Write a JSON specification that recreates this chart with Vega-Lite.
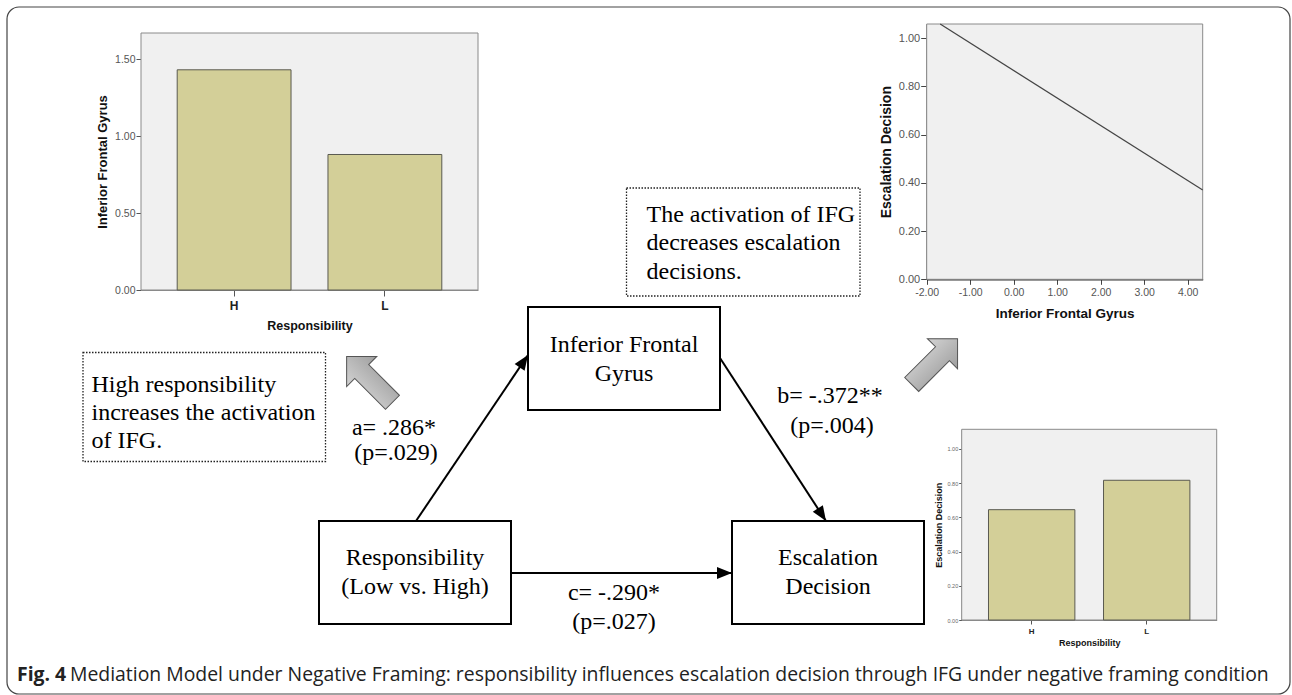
{
  "$schema": "https://vega.github.io/schema/vega-lite/v6.json",
  "width": 1292,
  "height": 695,
  "autosize": {"type": "none"},
  "padding": 0,
  "background": "white",
  "config": {
    "view": {"stroke": null},
    "axis": {"grid": false, "labelFont": "Liberation Sans", "titleFont": "Liberation Sans", "zindex": 1, "labelFlush": false, "labelOverlap": false}
  },
  "datasets": {
    "ifgByResp": [{"resp": "H", "ifg": 1.43}, {"resp": "L", "ifg": 0.88}],
    "escByIfg": [{"ifg": -1.69, "esc": 1.059}, {"ifg": 4.345, "esc": 0.37}],
    "escByResp": [{"resp": "H", "esc": 0.645}, {"resp": "L", "esc": 0.817}],
    "boxes": [
      {"x": 319, "x2": 511, "y": 521, "y2": 624},
      {"x": 528, "x2": 720, "y": 307, "y2": 410},
      {"x": 732, "x2": 924, "y": 521, "y2": 624}
    ],
    "notes": [
      {"x": 83, "x2": 325.5, "y": 352.5, "y2": 461.5},
      {"x": 626.5, "x2": 860, "y": 188, "y2": 296}
    ],
    "paths": [
      {"id": "a", "x": 416, "y": 521, "x2": 528, "y2": 355},
      {"id": "b", "x": 720, "y": 358, "x2": 826, "y2": 521},
      {"id": "c", "x": 511, "y": 573, "x2": 732, "y2": 573}
    ],
    "leftText": [
      {"t": "High responsibility", "x": 91.5, "y": 391.5},
      {"t": "increases the activation", "x": 91.5, "y": 419.5},
      {"t": "of IFG.", "x": 91.5, "y": 448},
      {"t": "The activation of IFG", "x": 646.5, "y": 221.5},
      {"t": "decreases escalation", "x": 646.5, "y": 250},
      {"t": "decisions.", "x": 646.5, "y": 278.5}
    ],
    "centerText": [
      {"t": "Inferior Frontal", "x": 624, "y": 351.5},
      {"t": "Gyrus", "x": 624, "y": 381},
      {"t": "Responsibility", "x": 415, "y": 565},
      {"t": "(Low vs. High)", "x": 415, "y": 594},
      {"t": "Escalation", "x": 828, "y": 565},
      {"t": "Decision", "x": 828, "y": 594},
      {"t": "a= .286*", "x": 394, "y": 435},
      {"t": "(p=.029)", "x": 396, "y": 460},
      {"t": "b= -.372**", "x": 830, "y": 403},
      {"t": "(p=.004)", "x": 832, "y": 433},
      {"t": "c= -.290*", "x": 614, "y": 600},
      {"t": "(p=.027)", "x": 614, "y": 629}
    ],
    "pointers": [
      {"dir": "nw", "x": 374, "y": 384},
      {"dir": "ne", "x": 930, "y": 366}
    ],
    "frame": [{"x": 7, "x2": 1290, "y": 7, "y2": 694}],
    "captionBold": [{"t": "Fig. 4", "x": 17, "y": 681}],
    "caption": [{"t": "Mediation Model under Negative Framing: responsibility influences escalation decision through IFG under negative framing condition", "x": 70, "y": 681}]
  },
  "layer": [
    {
      "encoding": {
        "x": {"field": "x", "type": "quantitative", "scale": {"domain": [0, 1292], "range": [0, 1292], "nice": false, "zero": false}, "axis": null},
        "y": {"field": "y", "type": "quantitative", "scale": {"domain": [0, 695], "range": [0, 695], "nice": false, "zero": false}, "axis": null}
      },
      "layer": [
        {"data": {"name": "frame"}, "mark": {"type": "rect", "fill": "transparent", "stroke": "#444", "strokeWidth": 1.2, "cornerRadius": 12},
         "encoding": {"x2": {"field": "x2"}, "y2": {"field": "y2"}}},
        {"data": {"name": "notes"}, "mark": {"type": "rect", "fill": "transparent", "stroke": "#222", "strokeWidth": 1.3, "strokeDash": [1.5, 1.5]},
         "encoding": {"x2": {"field": "x2"}, "y2": {"field": "y2"}}},
        {"data": {"name": "boxes"}, "mark": {"type": "rect", "fill": "transparent", "stroke": "#000", "strokeWidth": 2},
         "encoding": {"x2": {"field": "x2"}, "y2": {"field": "y2"}}},
        {"data": {"name": "paths"}, "mark": {"type": "rule", "color": "#000", "strokeWidth": 2},
         "encoding": {"x2": {"field": "x2"}, "y2": {"field": "y2"}}},
        {"data": {"name": "paths"}, "transform": [{"filter": "datum.id === 'a'"}],
         "mark": {"type": "point", "shape": "M0,0L-0.8,2L0.8,2Z", "filled": true, "color": "#000", "opacity": 1, "size": 225, "angle": 34},
         "encoding": {"x": {"field": "x2", "type": "quantitative", "scale": {"domain": [0, 1292], "range": [0, 1292], "nice": false, "zero": false}, "axis": null},
                      "y": {"field": "y2", "type": "quantitative", "scale": {"domain": [0, 695], "range": [0, 695], "nice": false, "zero": false}, "axis": null}}},
        {"data": {"name": "paths"}, "transform": [{"filter": "datum.id === 'b'"}],
         "mark": {"type": "point", "shape": "M0,0L-0.8,2L0.8,2Z", "filled": true, "color": "#000", "opacity": 1, "size": 225, "angle": 147},
         "encoding": {"x": {"field": "x2", "type": "quantitative", "scale": {"domain": [0, 1292], "range": [0, 1292], "nice": false, "zero": false}, "axis": null},
                      "y": {"field": "y2", "type": "quantitative", "scale": {"domain": [0, 695], "range": [0, 695], "nice": false, "zero": false}, "axis": null}}},
        {"data": {"name": "paths"}, "transform": [{"filter": "datum.id === 'c'"}],
         "mark": {"type": "point", "shape": "M0,0L-0.8,2L0.8,2Z", "filled": true, "color": "#000", "opacity": 1, "size": 225, "angle": 90},
         "encoding": {"x": {"field": "x2", "type": "quantitative", "scale": {"domain": [0, 1292], "range": [0, 1292], "nice": false, "zero": false}, "axis": null},
                      "y": {"field": "y2", "type": "quantitative", "scale": {"domain": [0, 695], "range": [0, 695], "nice": false, "zero": false}, "axis": null}}},
        {"data": {"name": "leftText"}, "mark": {"type": "text", "font": "Liberation Serif", "fontSize": 24, "align": "left", "baseline": "alphabetic", "color": "#000"},
         "encoding": {"text": {"field": "t"}}},
        {"data": {"name": "centerText"}, "mark": {"type": "text", "font": "Liberation Serif", "fontSize": 24, "align": "center", "baseline": "alphabetic", "color": "#000"},
         "encoding": {"text": {"field": "t"}}},
        {"data": {"name": "pointers"}, "transform": [{"filter": "datum.dir === 'nw'"}],
         "mark": {"type": "text", "text": "⬆", "font": "DejaVu Sans", "fontSize": 86, "align": "center", "baseline": "middle", "angle": -45, "stroke": "#555", "strokeWidth": 1,
                  "fill": {"gradient": "linear", "x1": 0, "y1": 0, "x2": 1, "y2": 0, "stops": [{"offset": 0, "color": "#e6e6e6"}, {"offset": 1, "color": "#8c8c8c"}]}},
         "encoding": {}},
        {"data": {"name": "pointers"}, "transform": [{"filter": "datum.dir === 'ne'"}],
         "mark": {"type": "text", "text": "⬆", "font": "DejaVu Sans", "fontSize": 86, "align": "center", "baseline": "middle", "angle": 45, "stroke": "#555", "strokeWidth": 1,
                  "fill": {"gradient": "linear", "x1": 0, "y1": 0, "x2": 1, "y2": 0, "stops": [{"offset": 0, "color": "#e6e6e6"}, {"offset": 1, "color": "#8c8c8c"}]}},
         "encoding": {}},
        {"data": {"name": "captionBold"}, "mark": {"type": "text", "font": "Open Sans", "fontSize": 19.4, "fontWeight": "bold", "align": "left", "baseline": "alphabetic", "color": "#222"},
         "encoding": {"text": {"field": "t"}}},
        {"data": {"name": "caption"}, "mark": {"type": "text", "font": "Open Sans", "fontSize": 19.4, "align": "left", "baseline": "alphabetic", "color": "#222"},
         "encoding": {"text": {"field": "t"}}}
      ]
    },
    {
      "layer": [
        {"data": {"values": [{}]}, "mark": {"type": "rect", "fill": "#f0f0f0", "stroke": "#8a8a8a", "strokeWidth": 1},
         "encoding": {
           "x": {"datum": 0, "type": "quantitative", "scale": {"domain": [0, 1], "range": [141, 478], "nice": false, "zero": false}, "axis": null},
           "x2": {"datum": 1},
           "y": {"datum": 0, "type": "quantitative", "scale": {"domain": [0, 1], "range": [290, 33], "nice": false, "zero": false}, "axis": null},
           "y2": {"datum": 1}}},
        {"data": {"name": "ifgByResp"}, "mark": {"type": "bar", "fill": "#d3cf98", "stroke": "#5a5a50", "strokeWidth": 1},
         "encoding": {
           "x": {"field": "resp", "type": "nominal", "scale": {"type": "band", "domain": ["H", "L"], "range": [141, 478], "paddingInner": 0.245, "paddingOuter": 0.24},
                 "axis": {"orient": "bottom", "offset": -405, "title": "Responsibility", "titleFontSize": 12.5, "titleFontWeight": "bold", "titleColor": "#111", "titlePadding": 8,
                          "labelFontSize": 12, "labelFontWeight": "bold", "labelColor": "#222", "labelAngle": 0, "labelPadding": 4, "tickSize": 6, "tickColor": "#555", "domainColor": "#8a8a8a"}},
           "y": {"field": "ifg", "type": "quantitative", "scale": {"domain": [0, 1.669], "range": [290, 33], "nice": false, "zero": false},
                 "axis": {"orient": "left", "offset": -141, "values": [0, 0.5, 1, 1.5], "format": ".2f", "title": "Inferior Frontal Gyrus", "titleFontSize": 13, "titleFontWeight": "bold", "titleColor": "#111", "titlePadding": 5,
                          "labelFontSize": 10.5, "labelColor": "#555", "labelPadding": 1, "tickSize": 5, "tickColor": "#555", "domainColor": "#8a8a8a"}}}}
      ],
      "resolve": {"scale": {"x": "independent", "y": "independent"}, "axis": {"x": "independent", "y": "independent"}}
    },
    {
      "layer": [
        {"data": {"values": [{}]}, "mark": {"type": "rect", "fill": "#f0f0f0", "stroke": "#8a8a8a", "strokeWidth": 1},
         "encoding": {
           "x": {"datum": 0, "type": "quantitative", "scale": {"domain": [0, 1], "range": [926.7, 1202.7], "nice": false, "zero": false}, "axis": null},
           "x2": {"datum": 1},
           "y": {"datum": 0, "type": "quantitative", "scale": {"domain": [0, 1], "range": [279.3, 24], "nice": false, "zero": false}, "axis": null},
           "y2": {"datum": 1}}},
        {"data": {"name": "escByIfg"}, "mark": {"type": "line", "color": "#444", "strokeWidth": 1.2},
         "encoding": {
           "x": {"field": "ifg", "type": "quantitative", "scale": {"domain": [-2, 4.345], "range": [926.7, 1202.7], "nice": false, "zero": false},
                 "axis": {"orient": "bottom", "offset": -415.7, "values": [-2, -1, 0, 1, 2, 3, 4], "format": ".2f", "labelExpr": "replace(datum.label, '−', '-')", "title": "Inferior Frontal Gyrus", "titleFontSize": 13.5, "titleFontWeight": "bold", "titleColor": "#111", "titlePadding": 9,
                          "labelFontSize": 10.5, "labelColor": "#555", "labelPadding": 3, "tickSize": 5, "tickColor": "#444", "domainColor": "#333", "domainWidth": 1.5}},
           "y": {"field": "esc", "type": "quantitative", "scale": {"domain": [0, 1.059], "range": [279.3, 24], "nice": false, "zero": false},
                 "axis": {"orient": "left", "offset": -926.7, "values": [0, 0.2, 0.4, 0.6, 0.8, 1], "format": ".2f", "title": "Escalation Decision", "titleFontSize": 14, "titleFontWeight": "bold", "titleColor": "#111", "titlePadding": 5,
                          "labelFontSize": 11, "labelColor": "#555", "labelPadding": 1, "tickSize": 6, "tickColor": "#444", "domainColor": "#333", "domainWidth": 1.5}}}}
      ],
      "resolve": {"scale": {"x": "independent", "y": "independent"}, "axis": {"x": "independent", "y": "independent"}}
    },
    {
      "layer": [
        {"data": {"values": [{}]}, "mark": {"type": "rect", "fill": "#f0f0f0", "stroke": "#8a8a8a", "strokeWidth": 1},
         "encoding": {
           "x": {"datum": 0, "type": "quantitative", "scale": {"domain": [0, 1], "range": [961.7, 1216.7], "nice": false, "zero": false}, "axis": null},
           "x2": {"datum": 1},
           "y": {"datum": 0, "type": "quantitative", "scale": {"domain": [0, 1], "range": [620, 429.3], "nice": false, "zero": false}, "axis": null},
           "y2": {"datum": 1}}},
        {"data": {"name": "escByResp"}, "mark": {"type": "bar", "fill": "#d3cf98", "stroke": "#5a5a50", "strokeWidth": 1},
         "encoding": {
           "x": {"field": "resp", "type": "nominal", "scale": {"type": "band", "domain": ["H", "L"], "range": [961.7, 1216.7], "paddingInner": 0.249, "paddingOuter": 0.233},
                 "axis": {"orient": "bottom", "offset": -75, "title": "Responsibility", "titleFontSize": 9, "titleFontWeight": "bold", "titleColor": "#111", "titlePadding": 3,
                          "labelFontSize": 8, "labelFontWeight": "bold", "labelColor": "#222", "labelAngle": 0, "labelPadding": 3, "tickSize": 4, "tickColor": "#555", "domainColor": "#8a8a8a"}},
           "y": {"field": "esc", "type": "quantitative", "scale": {"domain": [0, 1.115], "range": [620, 429.3], "nice": false, "zero": false},
                 "axis": {"orient": "left", "offset": -961.7, "values": [0, 0.2, 0.4, 0.6, 0.8, 1], "format": ".2f", "title": "Escalation Decision", "titleFontSize": 9, "titleFontWeight": "bold", "titleColor": "#111", "titlePadding": 3,
                          "labelFontSize": 5.5, "labelColor": "#666", "labelPadding": 1, "tickSize": 3, "tickColor": "#555", "domainColor": "#8a8a8a"}}}}
      ],
      "resolve": {"scale": {"x": "independent", "y": "independent"}, "axis": {"x": "independent", "y": "independent"}}
    }
  ],
  "resolve": {"scale": {"x": "independent", "y": "independent"}, "axis": {"x": "independent", "y": "independent"}}
}
